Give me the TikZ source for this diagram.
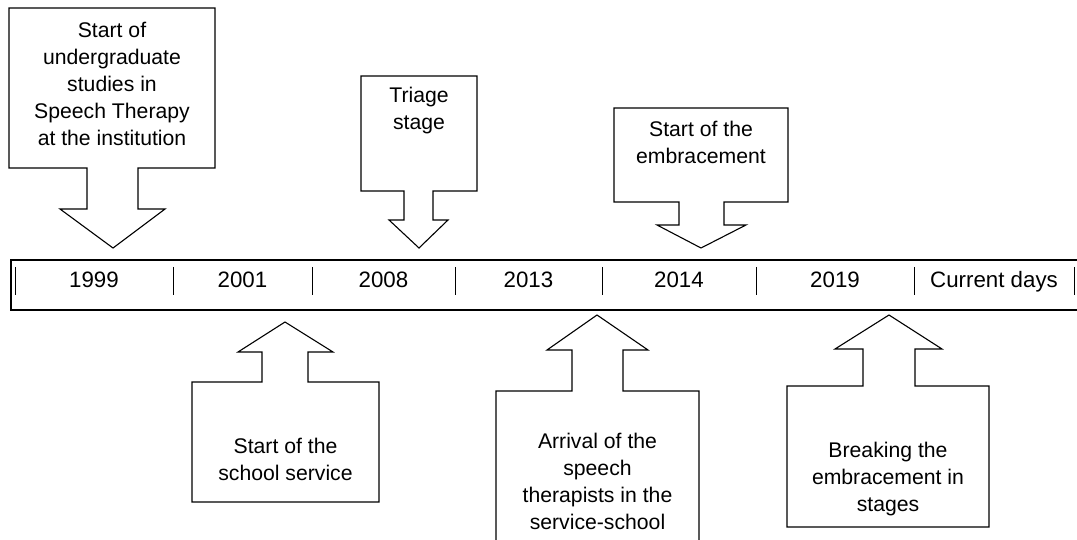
\documentclass[tikz,border=0pt]{standalone}
\usepackage{fontspec}
\setmainfont{Liberation Sans}
\begin{document}
\begin{tikzpicture}[x=1pt,y=-1pt,
  callout/.style={draw=black, line width=1.1pt, fill=white, line join=miter},
  boxtext/.style={anchor=base, inner sep=0pt, font=\fontsize{21.2}{27}\selectfont},
  yeartext/.style={anchor=base, inner sep=0pt, font=\fontsize{22.3}{26}\selectfont},
  sepline/.style={line width=1pt},
  rail/.style={line width=1.6pt}]
\useasboundingbox (0,0) rectangle (1077,540);
\clip (0,0) rectangle (1077,540);
\fill[white] (0,0) rectangle (1077,540);

% timeline
\draw[rail] (1082,260) -- (11,260) -- (11,310) -- (1082,310);
\foreach \sx in {15,173,312,455,602,756,914,1074}
  \draw[sepline] (\sx,267) -- (\sx,295);
\node[yeartext] (y1999) at (94,288) {1999};
\node[yeartext] (y2001) at (242.5,288) {2001};
\node[yeartext] (y2008) at (383.5,288) {2008};
\node[yeartext] (y2013) at (528.5,288) {2013};
\node[yeartext] (y2014) at (679,288) {2014};
\node[yeartext] (y2019) at (835,288) {2019};
\node[yeartext] (ycur) at (994,288) {Current days};

% down callouts
\draw[callout] (9,8) -- (215,8) -- (215,168) -- (138,168) -- (138,209) -- (165,209)
  -- (113,248) -- (60,209) -- (87,209) -- (87,168) -- (9,168) -- cycle;
\node[boxtext] (t1999) at (112,38) {\begin{tabular}[t]{@{}c@{}}Start of\\undergraduate\\studies in\\Speech Therapy\\at the institution\end{tabular}};

\draw[callout] (361,76) -- (477,76) -- (477,191) -- (433,191) -- (433,220) -- (448,220)
  -- (419,248) -- (389,220) -- (404,220) -- (404,191) -- (361,191) -- cycle;
\node[boxtext] (t2008) at (419,103) {\begin{tabular}[t]{@{}c@{}}Triage\\stage\end{tabular}};

\draw[callout] (614,108) -- (788,108) -- (788,202) -- (724,202) -- (724,225) -- (746,225)
  -- (701,248) -- (657,225) -- (679,225) -- (679,202) -- (614,202) -- cycle;
\node[boxtext] (t2014) at (701,137) {\begin{tabular}[t]{@{}c@{}}Start of the\\embracement\end{tabular}};

% up callouts
\draw[callout] (192,382) -- (262,382) -- (262,352) -- (238,352) -- (285,322) -- (333,352)
  -- (308,352) -- (308,382) -- (379,382) -- (379,502) -- (192,502) -- cycle;
\node[boxtext] (t2001) at (285.5,453) {\begin{tabular}[t]{@{}c@{}}Start of the\\school service\end{tabular}};

\draw[callout] (496,391) -- (572,391) -- (572,350) -- (547,350) -- (597,315) -- (648,350)
  -- (623,350) -- (623,391) -- (699,391) -- (699,560) -- (496,560) -- cycle;
\node[boxtext] (t2013) at (597.5,448) {\begin{tabular}[t]{@{}c@{}}Arrival of the\\speech\\therapists in the\\service-school\end{tabular}};

\draw[callout] (787,386) -- (863,386) -- (863,349) -- (835,349) -- (889,315) -- (942,349)
  -- (915,349) -- (915,386) -- (989,386) -- (989,527) -- (787,527) -- cycle;
\node[boxtext] (t2019) at (888,457) {\begin{tabular}[t]{@{}c@{}}Breaking the\\embracement in\\stages\end{tabular}};
\end{tikzpicture}
\end{document}
